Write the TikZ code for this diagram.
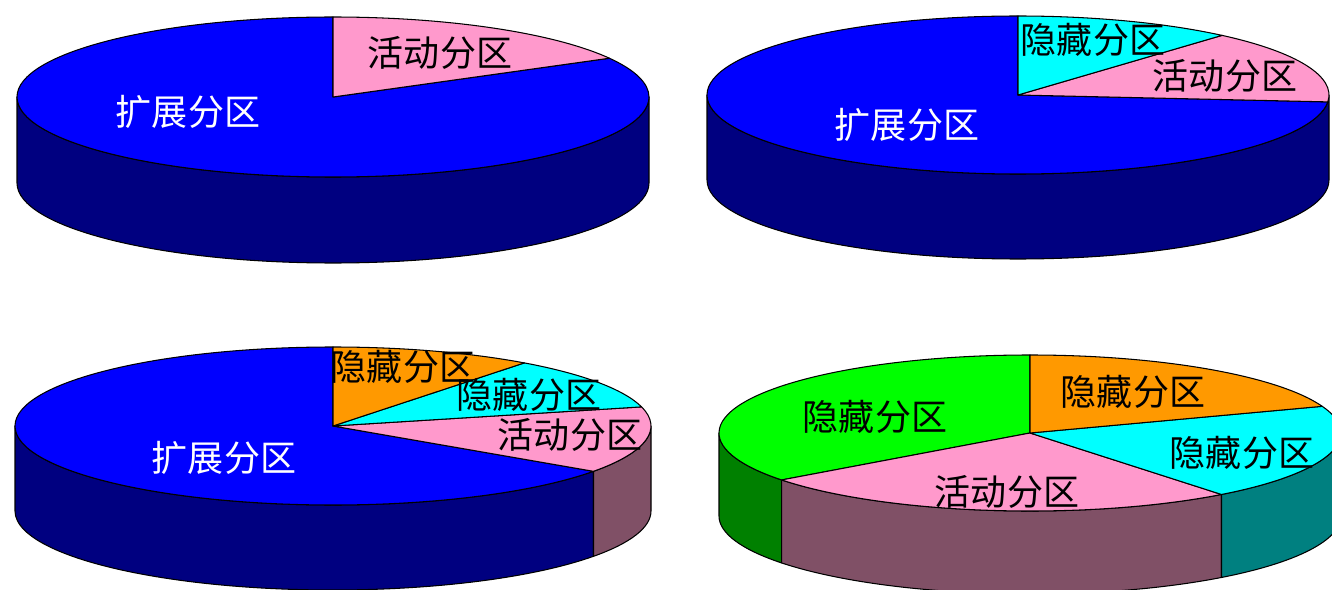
\documentclass[tikz,border=0pt]{standalone}
\usepackage{fontspec}
\usepackage{xcolor}
\newfontfamily\cjk{Noto Sans CJK SC}
\definecolor{extblue}{RGB}{0,0,255}
\definecolor{extside}{RGB}{0,0,128}
\definecolor{actpink}{RGB}{255,153,204}
\definecolor{actside}{RGB}{128,80,102}
\definecolor{hidcyan}{RGB}{0,255,255}
\definecolor{hidcyanside}{RGB}{0,128,128}
\definecolor{hidorange}{RGB}{255,153,0}
\definecolor{hidgreen}{RGB}{0,255,0}
\definecolor{hidgreenside}{RGB}{0,128,0}
% top face of one slice, angles counter-clockwise
\newcommand{\pietop}[3]{%
  \filldraw[slice, fill=#3] (0,0) -- ({\pierx*cos(#1)},{\piery*sin(#1)})
    arc[start angle=#1, end angle=#2, x radius=\pierx, y radius=\piery] -- cycle;}
% front wall of one slice
\newcommand{\pieside}[3]{%
  \filldraw[slice, fill=#3] ({\pierx*cos(#1)},{\piery*sin(#1)})
    arc[start angle=#1, end angle=#2, x radius=\pierx, y radius=\piery]
    -- ++(0,-\piedep)
    arc[start angle=#2, end angle=#1, x radius=\pierx, y radius=\piery] -- cycle;}

\begin{document}
\begin{tikzpicture}[
  x=0.02cm, y=0.02cm,
  slice/.style={draw=black, line width=0.6pt, line join=round},
  parttext/.style={font=\cjk\fontsize{20.5}{24}\selectfont, inner sep=0pt, text=black},
  exttext/.style={parttext, text=white}
]
\fill[white] (0,0) rectangle (1332,589);
\useasboundingbox (0,0) rectangle (1332,589);
\clip (0,0) rectangle (1332,589);

% one extended partition, one active
\begin{scope}[shift={(333,492)}]
\def\pierx{316}\def\piery{80}\def\piedep{86}
\pieside{180}{360}{extside}
\pietop{90}{389}{extblue}
\pietop{29}{90}{actpink}
\end{scope}
\node[exttext] (ext1) at (188,477) {扩展分区};
\node[parttext] (act1) at (440,536) {活动分区};

% hidden + active + extended
\begin{scope}[shift={(1018,494)}]
\def\pierx{311}\def\piery{79}\def\piedep{85}
\pieside{180}{360}{extside}
\pietop{90}{355}{extblue}
\pietop{-5}{49}{actpink}
\pietop{49}{90}{hidcyan}
\end{scope}
\node[parttext] (hid2) at (1093,549) {隐藏分区};
\node[parttext] (act2) at (1225,513) {活动分区};
\node[exttext] (ext2) at (907,464) {扩展分区};

% two hidden + active + extended
\begin{scope}[shift={(333,163)}]
\def\pierx{318}\def\piery{79}\def\piedep{85}
\pieside{180}{325}{extside}
\pieside{325}{360}{actside}
\pietop{90}{325}{extblue}
\pietop{-35}{14}{actpink}
\pietop{14}{53}{hidcyan}
\pietop{53}{90}{hidorange}
\end{scope}
\node[parttext] (hid3a) at (403,222) {隐藏分区};
\node[parttext] (hid3b) at (529,194) {隐藏分区};
\node[parttext] (act3) at (570,154) {活动分区};
\node[exttext] (ext3) at (224,131) {扩展分区};

% three hidden + active
\begin{scope}[shift={(1030,156)}]
\def\pierx{311}\def\piery{78}\def\piedep{83}
\pieside{180}{217}{hidgreenside}
\pieside{217}{308}{actside}
\pieside{308}{360}{hidcyanside}
\pietop{90}{217}{hidgreen}
\pietop{217}{308}{actpink}
\pietop{-52}{20}{hidcyan}
\pietop{20}{90}{hidorange}
\end{scope}
\node[parttext] (hid4a) at (875,172) {隐藏分区};
\node[parttext] (hid4b) at (1133,197) {隐藏分区};
\node[parttext] (hid4c) at (1242,136) {隐藏分区};
\node[parttext] (act4) at (1007,97) {活动分区};
\end{tikzpicture}
\end{document}
